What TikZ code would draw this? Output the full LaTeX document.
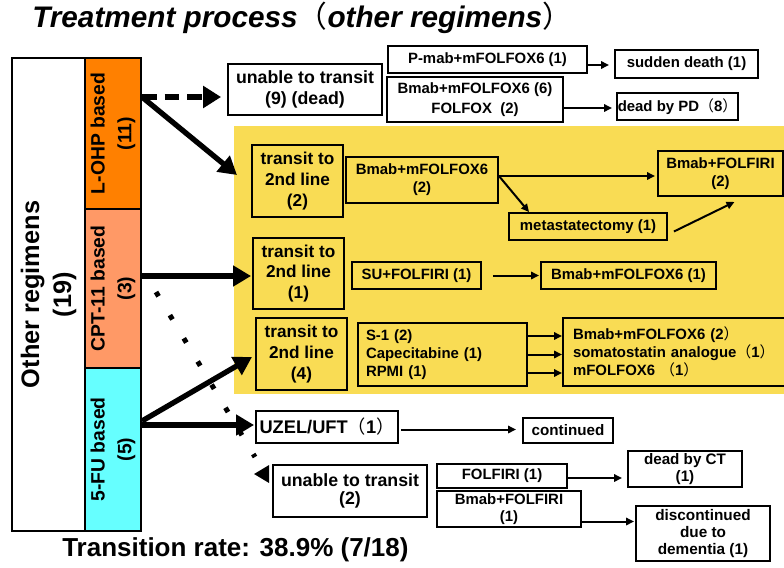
\documentclass[tikz,border=0pt]{standalone}
\usepackage{fontspec}
\setmainfont{Liberation Sans}
\newfontfamily\cjkfont{Noto Sans CJK JP}
\usetikzlibrary{arrows.meta,calc}
\newdimen\px
\px=0.75pt
\newcommand\lpar{{\cjkfont\upshape\mdseries （}}
\newcommand\rpar{{\cjkfont\upshape\mdseries ）}}
\definecolor{lohpc}{RGB}{255,128,0}
\definecolor{cptc}{RGB}{255,153,102}
\definecolor{fuc}{RGB}{102,255,255}
\definecolor{yel}{RGB}{249,220,84}
\tikzset{
  fnt/.style 2 args={font=\bfseries\fontsize{#1}{#2}\selectfont},
  box/.style={draw, line width=1.4pt, inner sep=0pt, align=center},
  cell/.style={draw, line width=1.4pt, inner sep=0pt, align=center, rotate=90},
  thickarrow/.style={line width=4pt, -{Triangle[length=13.5pt,width=15pt]}},
  thickdash/.style={line width=4.5pt, dash pattern=on 11pt off 6pt, -{Triangle[length=13.5pt,width=16pt]}},
  thinarrow/.style={line width=1.5pt, -{Triangle[length=6pt,width=5.5pt]}},
  dotline/.style={line width=3.75pt, dash pattern=on 3.75pt off 16.5pt}
}
\begin{document}
\begin{tikzpicture}[x=0.75pt,y=-0.75pt]
\useasboundingbox (0,0) rectangle (784,567);
\fill[yel] (234,126) rectangle (790,394);

% title and footer
\node[anchor=base west, inner sep=0pt, font=\bfseries\itshape\fontsize{22.3}{26}\selectfont] (title) at (32,28) {Treatment process\lpar other regimens\rpar};
\node[anchor=base west, inner sep=0pt, fnt={19.5}{23}] (rate) at (62,556.7) {Transition rate: 38.9\% (7/18)};

% left column
\node[cell, minimum width=473\px, minimum height=73\px, fnt={19}{24}] (other) at (48.5,294.5) {Other regimens\\(19)};
\node[cell, fill=lohpc, minimum width=151\px, minimum height=56\px, fnt={14.5}{20}] (lohp) at (113,133.5) {L-OHP based\\(11)};
\node[cell, fill=cptc, minimum width=159\px, minimum height=56\px, fnt={14.5}{20}] (cpt) at (113,288.5) {CPT-11 based\\(3)};
\node[cell, fill=fuc, minimum width=163\px, minimum height=56\px, fnt={14.5}{20}] (fu) at (113,449.5) {5-FU based\\(5)};

% top boxes
\node[box, fnt={13.3}{16.3}, minimum width=154\px, minimum height=51\px] (unable9) at (305,89.5) {unable to transit\\(9) (dead)};
\node[box, fnt={11.2}{14}, minimum width=199\px, minimum height=27\px] (pmab) at (487.5,59.5) {P-mab+mFOLFOX6 (1)};
\node[box, fnt={11.2}{14}, minimum width=143\px, minimum height=28\px] (sudden) at (686.5,64) {sudden death (1)};
\node[box, fnt={11.2}{15}, minimum width=176\px, minimum height=45\px] (bmab6) at (475,99.5) {Bmab+mFOLFOX6 (6)\\FOLFOX\ \ (2)};
\node[box, fnt={11.2}{14}, minimum width=121\px, minimum height=27\px] (deadPD) at (677.5,106.5) {dead by PD\lpar 8\rpar};

% yellow region
\node[box, fnt={12.9}{15.5}, minimum width=91\px, minimum height=72\px] (t2) at (297.5,181) {transit to\\2nd line\\(2)};
\node[box, fnt={11.2}{13.3}, minimum width=152\px, minimum height=46\px] (bm2) at (422,180) {Bmab+mFOLFOX6\\(2)};
\node[box, fnt={11.2}{13.7}, minimum width=125\px, minimum height=45\px] (bf2) at (720.5,173.5) {Bmab+FOLFIRI\\(2)};
\node[box, fnt={11.2}{14}, minimum width=158\px, minimum height=27\px] (meta) at (588,226.5) {metastatectomy (1)};
\node[box, fnt={12.9}{15.5}, minimum width=91\px, minimum height=71\px] (t1) at (298.5,273.5) {transit to\\2nd line\\(1)};
\node[box, fnt={11.2}{14}, minimum width=129\px, minimum height=27\px] (su) at (416.5,275.5) {SU+FOLFIRI (1)};
\node[box, fnt={11.2}{14}, minimum width=175\px, minimum height=27\px] (bm1) at (628.5,275.5) {Bmab+mFOLFOX6 (1)};
\node[box, fnt={12.9}{15.5}, minimum width=91\px, minimum height=72\px] (t4) at (301.5,354) {transit to\\2nd line\\(4)};
\node[box, fnt={11.2}{13.5}, align=left, inner xsep=8\px, text width=153\px, minimum height=63\px] (s1) at (442.5,354.5) {S-1 (2)\\Capecitabine (1)\\RPMI (1)};
\node[box, fnt={11.2}{13.5}, align=left, inner xsep=10\px, text width=212\px, minimum height=68\px] (res4) at (679,352) {Bmab+mFOLFOX6 (2\rpar\\somatostatin analogue\lpar 1\rpar\\mFOLFOX6 \lpar 1\rpar};

% bottom boxes
\node[box, fnt={13.7}{16}, minimum width=142\px, minimum height=32\px] (uzel) at (327,427) {UZEL/UFT\lpar 1\rpar};
\node[box, fnt={11.4}{14}, minimum width=90\px, minimum height=25\px] (cont) at (568,430.5) {continued};
\node[box, fnt={13.3}{13}, minimum width=154\px, minimum height=52\px] (unable2) at (350,491) {unable to transit\\(2)};
\node[box, fnt={11.2}{14}, minimum width=130\px, minimum height=24\px] (folfiri1) at (502,476) {FOLFIRI (1)};
\node[box, fnt={11.4}{12.5}, minimum width=114\px, minimum height=36\px] (deadCT) at (685,469) {dead by CT\\(1)};
\node[box, fnt={11.2}{12.5}, minimum width=144\px, minimum height=36\px] (bf1) at (509,509) {Bmab+FOLFIRI\\(1)};
\node[box, fnt={11.5}{13}, minimum width=134\px, minimum height=55\px] (disc) at (703,533.5) {discontinued\\due to\\dementia (1)};

% thick connectors from the left column
\coordinate (lS) at (142,97);
\coordinate (lE) at (237,175);
\draw[thickdash, shorten >=6\px] (lS) -- (lS -| unable9.west);
\draw[thickarrow] (lS) -- (lE);
\coordinate (cS) at (142,276);
\draw[thickarrow, shorten >=1\px] (cS) -- (cS -| t1.west);
\coordinate (fS1) at (142,421);
\coordinate (fE1) at (252,357);
\draw[thickarrow] (fS1) -- (fE1);
\coordinate (fS2) at (142,425);
\draw[thickarrow, shorten >=1\px] (fS2) -- (fS2 -| uzel.west);

% dotted connector to "unable to transit (2)"
\coordinate (dS) at (156,292);
\coordinate (dE) at (255,457);
\draw[dotline] (dS) -- (dE);
\coordinate (tri) at ($(unable2.west)+(-3,-17)$);
\fill ($(tri)+(-15,0)$) -- ($(tri)+(0,-9)$) -- ($(tri)+(0,9)$) -- cycle;

% thin connectors
\coordinate (pS) at ($(pmab.east)+(0,5.5)$);
\draw[thinarrow, shorten >=5\px] (pS) -- (pS -| sudden.west);
\coordinate (bS) at ($(bmab6.east)+(0,8.5)$);
\draw[thinarrow, shorten >=4\px] (bS) -- (bS -| deadPD.west);
\coordinate (b2s) at ($(bm2.east)+(0,-4)$);
\draw[thinarrow, shorten >=2\px] (b2s) -- (b2s -| bf2.west);
\coordinate (mE) at ($(meta.north west)+(21,0)$);
\draw[thinarrow] (b2s) -- (mE);
\coordinate (mS) at ($(meta.east)+(6,5)$);
\coordinate (fE) at ($(bf2.south)+(14,5)$);
\draw[thinarrow] (mS) -- (fE);
\draw[thinarrow, shorten <=11\px, shorten >=1\px] (su.east) -- (su.east -| bm1.west);
\coordinate (sA) at ($(s1.east)+(0,-18.5)$);
\coordinate (sC) at ($(s1.east)+(0,18.5)$);
\draw[thinarrow] (sA) -- (sA -| res4.west);
\draw[thinarrow] (s1.east) -- (s1.east -| res4.west);
\draw[thinarrow] (sC) -- (sC -| res4.west);
\coordinate (uS) at ($(uzel.east)+(0,2.5)$);
\draw[thinarrow, shorten <=2\px, shorten >=6\px] (uS) -- (uS -| cont.west);
\coordinate (ffS) at ($(folfiri1.east)+(0,2)$);
\draw[thinarrow, shorten >=5\px] (ffS) -- (ffS -| deadCT.west);
\coordinate (bfS) at ($(bf1.east)+(0,12.5)$);
\draw[thinarrow, shorten >=1\px] (bfS) -- (bfS -| disc.west);
\end{tikzpicture}
\end{document}
